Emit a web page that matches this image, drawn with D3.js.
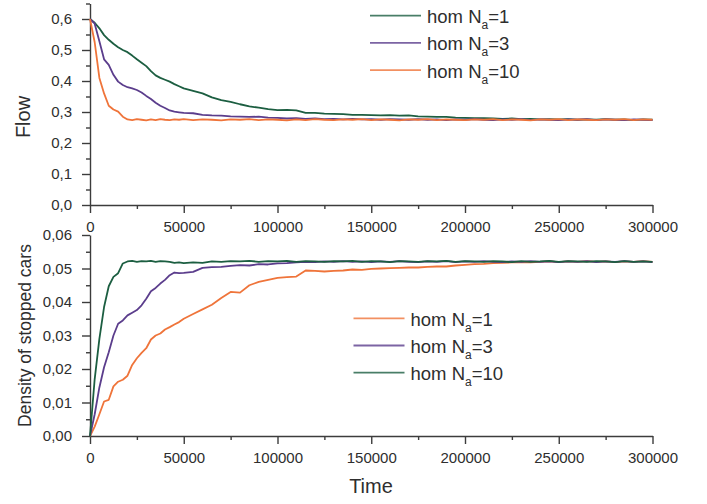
<!DOCTYPE html>
<html>
<head>
<meta charset="utf-8">
<script src="https://cdn.jsdelivr.net/npm/d3@7"></script>
<style>
  body { margin: 0; background: #fff; }
  text { font-family: "Liberation Sans", Arial, sans-serif; }
</style>
</head>
<body>
<div id="chart"></div>
<script>
// time steps shared by every series
const times = [0, 2500, 5000, 7500, 10000, 12500, 15000, 17500, 20000, 22500, 25000, 27500, 30000,
  32500, 35000, 37500, 40000, 42500, 45000, 47500, 50000,
  55000, 60000, 65000, 70000, 75000, 80000, 85000, 90000, 95000, 100000,
  105000, 110000, 115000, 120000, 125000, 130000, 135000, 140000, 145000, 150000,
  155000, 160000, 165000, 170000, 175000, 180000, 185000, 190000, 195000, 200000,
  205000, 210000, 215000, 220000, 225000, 230000, 235000, 240000, 245000, 250000,
  255000, 260000, 265000, 270000, 275000, 280000, 285000, 290000, 295000, 300000];

// flow (top panel)
const flowNa1 = [0.600, 0.588, 0.570, 0.548, 0.533, 0.520, 0.509, 0.500, 0.493, 0.482, 0.470, 0.459, 0.448,
  0.432, 0.418, 0.410, 0.404, 0.398, 0.390, 0.383, 0.376,
  0.368, 0.360, 0.347, 0.338, 0.333, 0.325, 0.318, 0.314, 0.309, 0.306,
  0.307, 0.305, 0.297, 0.297, 0.295, 0.294, 0.293, 0.291, 0.291, 0.290,
  0.289, 0.290, 0.288, 0.289, 0.286, 0.285, 0.284, 0.284, 0.282, 0.281,
  0.280, 0.280, 0.279, 0.278, 0.279, 0.277, 0.278, 0.276, 0.277, 0.276,
  0.277, 0.275, 0.276, 0.275, 0.277, 0.275, 0.276, 0.274, 0.276, 0.275];
const flowNa3 = [0.600, 0.585, 0.528, 0.470, 0.452, 0.420, 0.398, 0.387, 0.380, 0.376, 0.371, 0.363, 0.352,
  0.342, 0.330, 0.320, 0.313, 0.305, 0.301, 0.299, 0.297,
  0.296, 0.291, 0.289, 0.288, 0.286, 0.285, 0.284, 0.285, 0.282, 0.281,
  0.279, 0.280, 0.278, 0.279, 0.277, 0.278, 0.276, 0.278, 0.276, 0.277,
  0.275, 0.277, 0.276, 0.275, 0.277, 0.275, 0.276, 0.274, 0.276, 0.275,
  0.277, 0.275, 0.274, 0.276, 0.275, 0.277, 0.274, 0.276, 0.275, 0.274,
  0.276, 0.275, 0.277, 0.274, 0.276, 0.275, 0.274, 0.276, 0.275, 0.274];
const flowNa10 = [0.600, 0.525, 0.410, 0.360, 0.320, 0.308, 0.301, 0.285, 0.276, 0.274, 0.277, 0.275, 0.273,
  0.276, 0.274, 0.277, 0.275, 0.274, 0.276, 0.275, 0.277,
  0.274, 0.276, 0.275, 0.273, 0.276, 0.275, 0.277, 0.274, 0.276, 0.275,
  0.273, 0.276, 0.274, 0.277, 0.275, 0.274, 0.276, 0.275, 0.277, 0.274,
  0.276, 0.275, 0.273, 0.276, 0.275, 0.277, 0.274, 0.276, 0.275, 0.274,
  0.276, 0.275, 0.277, 0.274, 0.276, 0.275, 0.273, 0.276, 0.275, 0.277,
  0.274, 0.276, 0.275, 0.274, 0.276, 0.275, 0.277, 0.274, 0.276, 0.275];

// density of stopped cars (bottom panel)
const densNa1 = [0, 0.0028, 0.0065, 0.0103, 0.0108, 0.0148, 0.0162, 0.0168, 0.0180, 0.0212, 0.0232, 0.0248, 0.0262,
  0.0288, 0.0300, 0.0306, 0.0318, 0.0325, 0.0333, 0.0340, 0.0350,
  0.0364, 0.0378, 0.0392, 0.0412, 0.0430, 0.0428, 0.0450, 0.0460, 0.0466, 0.0472,
  0.0474, 0.0476, 0.0494, 0.0493, 0.0491, 0.0493, 0.0494, 0.0497, 0.0496, 0.0499,
  0.0500, 0.0501, 0.0502, 0.0503, 0.0503, 0.0505, 0.0506, 0.0506, 0.0509, 0.0511,
  0.0513, 0.0514, 0.0516, 0.0517, 0.0518, 0.0519, 0.0518, 0.0520, 0.0521, 0.0519,
  0.0521, 0.0520, 0.0522, 0.0520, 0.0521, 0.0519, 0.0521, 0.0520, 0.0522, 0.0520];
const densNa3 = [0, 0.0065, 0.0145, 0.0205, 0.0250, 0.0300, 0.0335, 0.0345, 0.0360, 0.0368, 0.0376, 0.0390, 0.0410,
  0.0432, 0.0442, 0.0455, 0.0466, 0.0480, 0.0488, 0.0486, 0.0487,
  0.0490, 0.0502, 0.0504, 0.0505, 0.0508, 0.0510, 0.0509, 0.0513, 0.0512, 0.0515,
  0.0516, 0.0518, 0.0520, 0.0519, 0.0521, 0.0520, 0.0522, 0.0520, 0.0521, 0.0519,
  0.0521, 0.0520, 0.0522, 0.0520, 0.0519, 0.0521, 0.0520, 0.0522, 0.0519, 0.0521,
  0.0520, 0.0522, 0.0520, 0.0519, 0.0521, 0.0520, 0.0522, 0.0520, 0.0521, 0.0519,
  0.0521, 0.0520, 0.0522, 0.0519, 0.0521, 0.0520, 0.0522, 0.0520, 0.0521, 0.0519];
const densNa10 = [0, 0.0170, 0.0290, 0.0385, 0.0447, 0.0475, 0.0486, 0.0515, 0.0521, 0.0523, 0.0520, 0.0522, 0.0521,
  0.0523, 0.0520, 0.0522, 0.0521, 0.0520, 0.0517, 0.0518, 0.0516,
  0.0518, 0.0517, 0.0521, 0.0520, 0.0522, 0.0521, 0.0523, 0.0520, 0.0522, 0.0521,
  0.0523, 0.0520, 0.0522, 0.0521, 0.0520, 0.0522, 0.0521, 0.0523, 0.0520, 0.0522,
  0.0521, 0.0519, 0.0522, 0.0521, 0.0520, 0.0522, 0.0521, 0.0523, 0.0520, 0.0522,
  0.0521, 0.0520, 0.0522, 0.0521, 0.0519, 0.0522, 0.0520, 0.0521, 0.0523, 0.0520,
  0.0522, 0.0521, 0.0520, 0.0522, 0.0521, 0.0519, 0.0522, 0.0520, 0.0521, 0.0520];

const xMajor = [0, 50000, 100000, 150000, 200000, 250000, 300000];
const xMinor = [25000, 75000, 125000, 175000, 225000, 275000];
const flowTicks = [0, 0.1, 0.2, 0.3, 0.4, 0.5, 0.6];
const flowMinor = [0.05, 0.15, 0.25, 0.35, 0.45, 0.55, 0.65];
const densTicks = [0, 0.01, 0.02, 0.03, 0.04, 0.05, 0.06];
const densMinor = [0.005, 0.015, 0.025, 0.035, 0.045, 0.055];

const green = "#1c5e41", purple = "#5b3d8c", orange = "#ef743a";

const topSeries = [
  { label: "1", values: flowNa1, color: green },
  { label: "3", values: flowNa3, color: purple },
  { label: "10", values: flowNa10, color: orange }
];
const bottomSeries = [
  { label: "1", values: densNa1, color: orange },
  { label: "3", values: densNa3, color: purple },
  { label: "10", values: densNa10, color: green }
];

const width = 707, height = 504;
const axisColor = "#3c3c3c", textColor = "#2e2e2e";

const svg = d3.select("#chart")
  .append("svg")
  .attr("width", width)
  .attr("height", height);

const comma = d3.formatLocale({ decimal: ",", thousands: "", grouping: [3], currency: ["", ""] });

const x = d3.scaleLinear().domain([0, 300000]).range([90, 652.5]);
const yTop = d3.scaleLinear().domain([0, 0.65]).range([205, 3.5]);
const yBot = d3.scaleLinear().domain([0, 0.06]).range([436, 235]);

function styleAxis(g) {
  g.attr("color", axisColor)
    .attr("font-size", 15)
    .attr("font-family", "'Liberation Sans', Arial, sans-serif");
  g.selectAll("path, line").attr("stroke-width", 1.4);
  g.selectAll("text").attr("fill", textColor);
}

function drawPanel(yScale, yTicks, yMinor, fmt, series, legendPos) {
  const axisY = yScale.range()[0];

  // x axis
  svg.append("g")
    .attr("transform", `translate(0,${axisY})`)
    .call(d3.axisBottom(x).tickValues(xMajor).tickSize(8).tickPadding(8)
      .tickSizeOuter(0).tickFormat(d3.format("d")))
    .call(styleAxis);
  svg.append("g")
    .attr("transform", `translate(0,${axisY})`)
    .call(d3.axisBottom(x).tickValues(xMinor).tickSize(4).tickFormat(""))
    .call(g => g.select(".domain").remove())
    .call(styleAxis);

  // y axis
  svg.append("g")
    .attr("transform", `translate(${x(0)},0)`)
    .call(d3.axisLeft(yScale).tickValues(yTicks).tickSize(8).tickPadding(10)
      .tickSizeOuter(0).tickFormat(comma.format(fmt)))
    .call(styleAxis);
  svg.append("g")
    .attr("transform", `translate(${x(0)},0)`)
    .call(d3.axisLeft(yScale).tickValues(yMinor).tickSize(4).tickFormat(""))
    .call(g => g.select(".domain").remove())
    .call(styleAxis);

  const line = d3.line()
    .x((d, i) => x(times[i]))
    .y(d => yScale(d));

  svg.selectAll(null)
    .data(series)
    .enter()
    .append("path")
    .attr("d", d => line(d.values))
    .attr("fill", "none")
    .attr("stroke", d => d.color)
    .attr("stroke-width", 1.8)
    .attr("stroke-linejoin", "round");

  // legend
  const rows = svg.selectAll(null)
    .data(series)
    .enter()
    .append("g")
    .attr("transform", (d, i) => `translate(${legendPos.x},${legendPos.y + i * 27.2})`);
  rows.append("line")
    .attr("x1", 0).attr("x2", 51)
    .attr("stroke", d => d.color)
    .attr("stroke-opacity", 0.8)
    .attr("stroke-width", 1.8);
  const t = rows.append("text")
    .attr("x", 57)
    .attr("y", 7.5)
    .attr("font-size", 18.5)
    .attr("fill", textColor);
  t.append("tspan").text("hom N");
  t.append("tspan").attr("font-size", 12).attr("dy", 6).text("a");
  t.append("tspan").attr("dy", -6).text(d => "=" + d.label);
}

drawPanel(yTop, flowTicks, flowMinor, ".1f", topSeries, { x: 370, y: 15.7 });
drawPanel(yBot, densTicks, densMinor, ".2f", bottomSeries, { x: 353.5, y: 318.3 });

// axis titles
svg.append("text")
  .attr("transform", "translate(30,117) rotate(-90)")
  .attr("text-anchor", "middle")
  .attr("font-size", 20)
  .attr("fill", textColor)
  .text("Flow");

svg.append("text")
  .attr("transform", "translate(30.5,335.5) rotate(-90)")
  .attr("text-anchor", "middle")
  .attr("font-size", 17.5)
  .attr("fill", textColor)
  .text("Density of stopped cars");

svg.append("text")
  .attr("x", 371)
  .attr("y", 493)
  .attr("text-anchor", "middle")
  .attr("font-size", 20)
  .attr("fill", textColor)
  .text("Time");
</script>
</body>
</html>
